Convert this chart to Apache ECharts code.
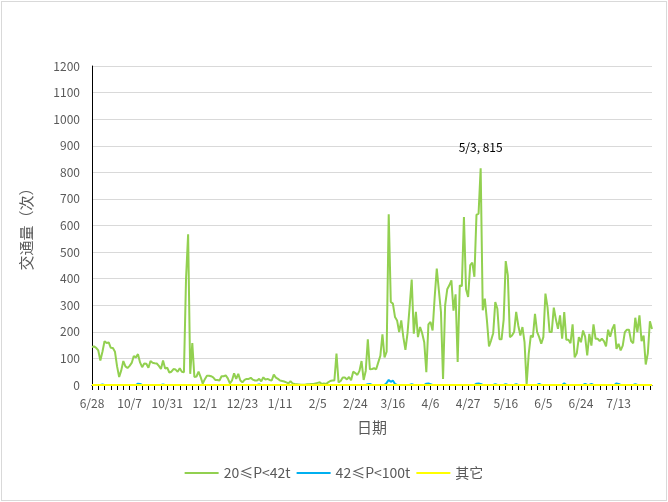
<!DOCTYPE html>
<html>
<head>
<meta charset="utf-8">
<title>交通量</title>
<script src="https://cdn.jsdelivr.net/npm/echarts@6/dist/echarts.min.js"></script>
<style>
  html, body { margin: 0; padding: 0; background: #fff; }
  #chart { width: 668px; height: 502px; }
  .frame { position: absolute; left: 1px; top: 1px; width: 664px; height: 498px; border: 1px solid #d9d9d9; pointer-events: none; }
</style>
</head>
<body>
<div id="chart"></div>
<div class="frame"></div>
<script>
// tick labels shown every 18 days on the x axis
const tickLabels = ['6/28', '10/7', '10/31', '12/1', '12/23', '1/11', '2/5', '2/24', '3/16', '4/6', '4/27', '5/16', '6/5', '6/24', '7/13']
const labelStep = 18

const seriesNames = ['20≤P<42t', '42≤P<100t', '其它']

// 20≤P<42t
const light = [
  143, 145, 140, 130, 92, 125, 165, 158, 160, 140,
  139, 125, 70, 30, 55, 90, 70, 64, 72, 83,
  109, 104, 116, 85, 67, 81, 80, 65, 90, 84,
  82, 81, 72, 60, 92, 62, 65, 47, 50, 60,
  58, 50, 63, 50, 48, 400, 567, 42, 158, 30,
  32, 50, 30, 5, 22, 35, 35, 33, 29, 19,
  19, 17, 33, 33, 36, 25, 6, 17, 44, 23,
  42, 17, 10, 19, 23, 23, 27, 20, 17, 17,
  23, 14, 29, 20, 23, 19, 17, 39, 28, 23,
  17, 15, 13, 10, 6, 14, 6, 4, 3, 2,
  1, 1, 1, 3, 3, 4, 4, 6, 8, 10,
  4, 6, 4, 10, 15, 17, 17, 118, 10, 15,
  28, 28, 21, 30, 18, 50, 45, 38, 53, 90,
  19, 53, 172, 59, 60, 63, 59, 85, 110, 191,
  104, 125, 642, 312, 306, 256, 243, 199, 243, 180,
  132, 195, 293, 397, 193, 275, 180, 218, 195, 161,
  48, 228, 237, 205, 331, 438, 356, 275, 23, 300,
  360, 375, 394, 280, 341, 87, 375, 372, 632, 360,
  331, 451, 460, 407, 640, 645, 815, 281, 325, 243,
  145, 168, 195, 312, 287, 172, 172, 245, 466, 413,
  180, 186, 199, 275, 224, 186, 218, 161, 2, 117,
  186, 180, 268, 200, 180, 155, 180, 344, 293, 199,
  199, 291, 247, 211, 262, 174, 274, 170, 170, 157,
  228, 104, 119, 180, 161, 205, 182, 111, 192, 148,
  228, 174, 174, 165, 174, 165, 145, 208, 182, 211,
  228, 136, 155, 130, 148, 199, 208, 208, 165, 157,
  253, 199, 262, 165, 186, 77, 119, 240, 211
]

// 42≤P<100t
const medium = [
  0, 0, 0, 0, 0, 2, 0, 0, 0, 0,
  0, 0, 0, 0, 0, 0, 0, 0, 0, 0,
  0, 0, 5, 4, 0, 0, 0, 0, 0, 0,
  0, 0, 0, 0, 2, 0, 0, 0, 0, 0,
  0, 0, 0, 0, 0, 0, 0, 0, 0, 0,
  0, 0, 0, 0, 0, 0, 0, 0, 0, 0,
  0, 0, 0, 0, 0, 0, 0, 0, 0, 0,
  0, 0, 0, 0, 0, 0, 0, 0, 0, 0,
  2, 0, 0, 0, 0, 0, 0, 0, 0, 0,
  0, 0, 0, 0, 0, 0, 0, 0, 0, 0,
  0, 0, 0, 0, 0, 0, 0, 0, 0, 0,
  0, 0, 0, 0, 0, 0, 0, 0, 0, 0,
  0, 0, 0, 0, 0, 0, 0, 0, 0, 0,
  0, 0, 3, 4, 0, 0, 0, 0, 0, 0,
  0, 8, 19, 12, 17, 4, 0, 0, 0, 0,
  0, 0, 0, 3, 0, 0, 0, 0, 0, 0,
  5, 6, 3, 0, 0, 0, 0, 0, 0, 0,
  0, 0, 0, 0, 0, 0, 0, 0, 0, 0,
  0, 0, 0, 0, 5, 6, 4, 0, 0, 0,
  0, 0, 0, 3, 0, 0, 0, 0, 3, 0,
  0, 0, 0, 3, 0, 0, 0, 0, 0, 0,
  0, 0, 0, 0, 4, 0, 0, 0, 0, 0,
  0, 0, 0, 0, 0, 0, 6, 0, 0, 0,
  0, 0, 0, 0, 0, 0, 4, 0, 0, 4,
  0, 0, 0, 0, 0, 0, 0, 0, 0, 0,
  0, 6, 4, 0, 0, 0, 0, 0, 0, 0,
  3, 0, 0, 0, 0, 0, 0, 0, 0
]

// 其它
const other = [
  0, 0, 0, 0, 0, 0, 0, 0, 0, 0,
  0, 0, 0, 0, 0, 0, 0, 0, 0, 0,
  0, 0, 0, 0, 0, 0, 0, 0, 0, 0,
  0, 0, 0, 0, 0, 0, 0, 0, 0, 0,
  0, 0, 0, 0, 0, 0, 0, 0, 0, 0,
  0, 0, 0, 0, 0, 0, 0, 0, 0, 0,
  0, 0, 0, 0, 0, 0, 0, 0, 0, 0,
  0, 0, 0, 0, 0, 0, 0, 0, 0, 0,
  0, 0, 0, 0, 0, 0, 0, 0, 0, 0,
  0, 0, 0, 0, 0, 0, 0, 0, 0, 0,
  0, 0, 0, 0, 0, 0, 0, 0, 0, 0,
  0, 0, 0, 0, 0, 0, 0, 0, 0, 0,
  0, 0, 0, 0, 0, 0, 0, 0, 0, 0,
  0, 0, 0, 0, 0, 0, 0, 0, 0, 0,
  0, 0, 0, 0, 0, 0, 0, 0, 0, 0,
  0, 0, 0, 0, 0, 0, 0, 0, 0, 0,
  0, 0, 0, 0, 0, 0, 0, 0, 0, 0,
  0, 0, 0, 0, 0, 0, 0, 0, 0, 0,
  0, 0, 0, 0, 0, 0, 0, 0, 0, 0,
  0, 0, 0, 0, 0, 0, 0, 0, 0, 0,
  0, 0, 0, 0, 0, 0, 0, 0, 0, 0,
  0, 0, 0, 0, 0, 0, 0, 0, 0, 0,
  0, 0, 0, 0, 0, 0, 0, 0, 0, 0,
  0, 0, 0, 0, 0, 0, 0, 0, 0, 0,
  0, 0, 0, 0, 0, 0, 0, 0, 0, 0,
  0, 0, 0, 0, 0, 0, 0, 0, 0, 0,
  0, 0, 0, 0, 0, 0, 0, 0, 0
]

// the peak that carries a data label
const peakIndex = 186
const peakDate = '5/3'

const days = light.map((v, i) => i)
const font = '"Noto Sans CJK SC", "Noto Sans", sans-serif'

const myChart = echarts.init(document.getElementById('chart'))
myChart.setOption({
  animation: false,
  textStyle: { fontFamily: font },
  grid: { left: 92, right: 16, top: 66, bottom: 117 },
  legend: {
    data: seriesNames,
    bottom: 17,
    left: 'center',
    icon: 'rect',
    itemWidth: 34,
    itemHeight: 2,
    itemGap: 6,
    textStyle: { fontSize: 14, color: '#595959', fontFamily: font }
  },
  xAxis: {
    type: 'category',
    data: days,
    boundaryGap: false,
    name: '日期',
    nameLocation: 'middle',
    nameGap: 35,
    nameTextStyle: { fontSize: 15, color: '#595959' },
    axisLine: { lineStyle: { color: '#000', width: 1 } },
    axisTick: { show: true, interval: 2, length: 5, lineStyle: { color: '#000' } },
    axisLabel: {
      interval: labelStep - 1,
      margin: 12,
      fontSize: 12,
      color: '#595959',
      formatter: (v, i) => tickLabels[i / labelStep] || ''
    },
    splitLine: { show: false }
  },
  yAxis: {
    type: 'value',
    min: 0,
    max: 1200,
    interval: 100,
    name: '交通量（次）',
    nameLocation: 'middle',
    nameGap: 58,
    nameTextStyle: { fontSize: 15, color: '#595959' },
    axisLine: { show: true, lineStyle: { color: '#000', width: 1 } },
    axisTick: { show: false },
    axisLabel: { margin: 12, fontSize: 12, color: '#595959', formatter: v => String(v) },
    splitLine: { lineStyle: { color: '#d9d9d9', width: 1 } }
  },
  series: [
    {
      name: seriesNames[0],
      type: 'line',
      data: light,
      symbol: 'none',
      clip: false,
      lineStyle: { color: '#92d050', width: 2 },
      itemStyle: { color: '#92d050' },
      markPoint: {
        symbol: 'circle',
        symbolSize: 0,
        data: [{ coord: [peakIndex, light[peakIndex]] }],
        label: {
          show: true,
          position: 'top',
          distance: 15,
          fontSize: 12,
          color: '#000',
          formatter: peakDate + ', ' + light[peakIndex]
        }
      }
    },
    {
      name: seriesNames[1],
      type: 'line',
      data: medium,
      symbol: 'none',
      clip: false,
      lineStyle: { color: '#00b0f0', width: 2 },
      itemStyle: { color: '#00b0f0' }
    },
    {
      name: seriesNames[2],
      type: 'line',
      data: other,
      symbol: 'none',
      clip: false,
      lineStyle: { color: '#ffff00', width: 2 },
      itemStyle: { color: '#ffff00' }
    }
  ]
})
</script>
</body>
</html>
